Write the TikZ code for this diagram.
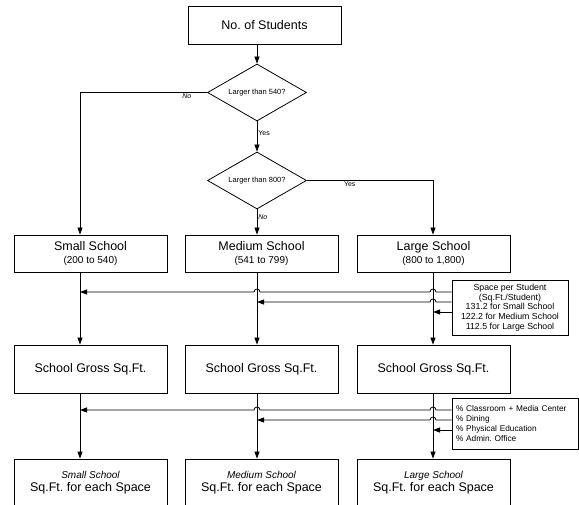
\documentclass[tikz,border=0pt]{standalone}
\usepackage{fontspec}
\setmainfont{Liberation Sans}
\usetikzlibrary{arrows.meta,shapes.geometric,calc}
\frenchspacing

\tikzstyle{block}=[draw,line width=0.8pt,minimum width=153pt,inner sep=0pt,align=center,font=\fontsize{12.5}{13}\selectfont]
\tikzstyle{decision}=[draw,diamond,line width=0.8pt,minimum width=99pt,minimum height=57pt,inner sep=0pt,shape aspect=1.7,font=\fontsize{7.5}{9}\selectfont]
\tikzstyle{note}=[draw,line width=0.8pt,inner sep=0pt,font=\fontsize{8.3}{9.7}\selectfont]
\tikzstyle{edge}=[draw,line width=0.8pt,-{Triangle[length=7pt,width=5pt]}]
\tikzstyle{weight}=[font=\fontsize{7}{8}\selectfont,inner sep=1pt]

\begin{document}
\begin{tikzpicture}[x=1pt,y=-1pt]
\useasboundingbox (0,0) rectangle (579,505);
\coordinate (c1) at (80,0);
\coordinate (c2) at (257,0);
\coordinate (c3) at (433,0);

\node[block,minimum height=38pt] (1) at (264.5,25) {No. of Students};
\node[decision] (2) at (257,92.5) {Larger than 540?};
\node[decision] (3) at (257,180.5) {Larger than 800?};

\node[block,minimum height=37pt] (4) at (90.5,253.5) {Small School\\{\fontsize{10}{12}\selectfont (200 to 540)}};
\node[block,minimum height=37pt] (5) at (261.5,253.5) {Medium School\\{\fontsize{10}{12}\selectfont (541 to 799)}};
\node[block,minimum height=37pt] (6) at (433.5,253.5) {Large School\\{\fontsize{10}{12}\selectfont (800 to 1,800)}};

\node[block,minimum height=48pt] (7) at (90.5,369) {School Gross Sq.Ft.};
\node[block,minimum height=48pt] (8) at (261.5,369) {School Gross Sq.Ft.};
\node[block,minimum height=48pt] (9) at (433.5,369) {School Gross Sq.Ft.};

\node[block,minimum height=48pt] (10) at (90.5,483) {{\fontsize{10}{12}\selectfont\itshape Small School}\\Sq.Ft. for each Space};
\node[block,minimum height=48pt] (11) at (261.5,483) {{\fontsize{10}{12}\selectfont\itshape Medium School}\\Sq.Ft. for each Space};
\node[block,minimum height=48pt] (12) at (433.5,483) {{\fontsize{10}{12}\selectfont\itshape Large School}\\Sq.Ft. for each Space};

\node[note,minimum width=116pt,minimum height=55pt,align=center,font=\fontsize{8.8}{9.7}\selectfont] (13) at (510,307.5) {Space per Student\\(Sq.Ft./Student)\\131.2 for Small School\\122.2 for Medium School\\112.5 for Large School};
\node[note,text width=118pt,inner xsep=4pt,minimum height=51pt,align=left] (14) at (515,423.5) {\% Classroom + Media Center\\\% Dining\\\% Physical Education\\\% Admin. Office};

% decisions
\path[edge] (2.north |- 1.south) -- (2.north);
\path[edge] (2.south) -- node[weight,right,pos=0.4] {Yes} (3.north);
\path[edge] (2.west) -| node[weight,below,pos=0.08] {\itshape No} (4.north -| c1);
\path[edge] (3.east) -| node[weight,below,pos=0.17] {Yes} (6.north -| c3);
\path[edge] (3.south) -- node[weight,right,pos=0.3] {\itshape No} (5.north -| c2);

% columns
\path[edge] (4.south -| c1) -- (7.north -| c1);
\path[edge] (5.south -| c2) -- (8.north -| c2);
\path[edge] (6.south -| c3) -- (9.north -| c3);
\path[edge] (7.south -| c1) -- (10.north -| c1);
\path[edge] (8.south -| c2) -- (11.north -| c2);
\path[edge] (9.south -| c3) -- (12.north -| c3);

% space per student
\coordinate (s1) at (80,292);
\coordinate (s2) at (257,302);
\coordinate (s3) at (433,312);
\path[edge] (13.west |- s1) -- ($(c3 |- s1)+(3,0)$) arc[start angle=0,end angle=180,radius=3pt] -- ($(c2 |- s1)+(3,0)$) arc[start angle=0,end angle=180,radius=3pt] -- (s1);
\path[edge] (13.west |- s2) -- ($(c3 |- s2)+(3,0)$) arc[start angle=0,end angle=180,radius=3pt] -- (s2);
\path[edge] (13.west |- s3) -- (s3);

% percentages
\coordinate (p1) at (80,410);
\coordinate (p2) at (257,420);
\coordinate (p3) at (433,430);
\path[edge] (14.west |- p1) -- ($(c3 |- p1)+(3,0)$) arc[start angle=0,end angle=180,radius=3pt] -- ($(c2 |- p1)+(3,0)$) arc[start angle=0,end angle=180,radius=3pt] -- (p1);
\path[edge] (14.west |- p2) -- ($(c3 |- p2)+(3,0)$) arc[start angle=0,end angle=180,radius=3pt] -- (p2);
\path[edge] (14.west |- p3) -- (p3);
\end{tikzpicture}
\end{document}
